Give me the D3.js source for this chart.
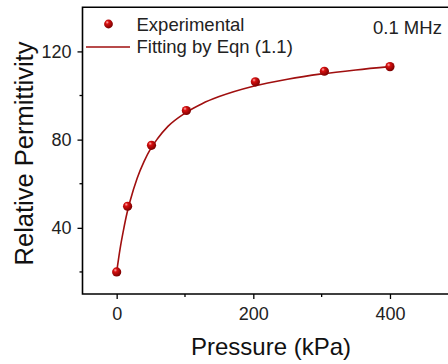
<!DOCTYPE html>
<html><head><meta charset="utf-8">
<script src="https://cdn.jsdelivr.net/npm/d3@7"></script>
<style>
html,body{margin:0;padding:0;background:#fff;}
svg{display:block;font-family:Arial,"Liberation Sans",sans-serif;}
</style></head>
<body>
<svg id="chart" width="448" height="364"></svg>
<script>
// Data
const pressure = [0, 16, 51, 102, 203, 304, 400];
const permittivity = [20, 49.8, 77.4, 93.2, 106.2, 111.0, 113.1];
const fitPressure = [0, 5, 10, 15, 20, 30, 40, 50, 60, 75, 100, 125, 150, 200, 250, 300, 350, 400];
const fitPermittivity = [20, 30.5, 39, 46.5, 52.5, 62.5, 70, 76, 80.5, 86, 92, 96.3, 99.5, 104.2, 107.4, 109.8, 111.6, 113.1];
const xTicks = [0, 200, 400];
const xMinorTicks = [100, 300];
const yTicks = [40, 80, 120];
const yMinorTicks = [20, 60, 100];
const legendLabels = ["Experimental", "Fitting by Eqn (1.1)"];
const annotation = "0.1 MHz";
const xTitle = "Pressure (kPa)";
const yTitle = "Relative Permittivity";

const svg = d3.select("#chart");
const pLeft = 82.5, pTop = 7.3, pBottom = 294, pRight = 458.3;
const x = d3.scaleLinear().domain([-50, 500]).range([pLeft, pRight]);
const y = d3.scaleLinear().domain([10, 140]).range([pBottom, pTop]);

const red = "#a00f0f";
const defs = svg.append("defs");
const g = defs.append("radialGradient").attr("id", "ball").attr("cx", "38%").attr("cy", "35%").attr("r", "65%").attr("fx", "35%").attr("fy", "30%");
g.append("stop").attr("offset", "0%").attr("stop-color", "#ffb0b0");
g.append("stop").attr("offset", "30%").attr("stop-color", "#d81010");
g.append("stop").attr("offset", "100%").attr("stop-color", "#7a0000");

// Axes
const xAxis = d3.axisBottom(x).tickValues(xTicks).tickSize(5).tickPadding(8).tickFormat(d3.format("d"));
const xAxisG = svg.append("g").attr("transform", `translate(0,${pBottom})`).call(xAxis);
xAxisG.append("g").selectAll("line").data(xMinorTicks).join("line")
  .attr("x1", d => x(d)).attr("x2", d => x(d)).attr("y1", 0).attr("y2", 3).attr("stroke", "#000").attr("stroke-width", 1.3);
const yAxis = d3.axisLeft(y).tickValues(yTicks).tickSize(5).tickPadding(6).tickFormat(d3.format("d"));
const yAxisG = svg.append("g").attr("transform", `translate(${pLeft},0)`).call(yAxis);
yAxisG.append("g").selectAll("line").data(yMinorTicks).join("line")
  .attr("y1", d => y(d)).attr("y2", d => y(d)).attr("x1", 0).attr("x2", -3).attr("stroke", "#000").attr("stroke-width", 1.3);
[xAxisG, yAxisG].forEach(a => {
  a.select(".domain").remove();
  a.selectAll(".tick line").attr("stroke", "#000").attr("stroke-width", 1.3);
  a.selectAll("text").attr("font-size", 18).attr("fill", "#222").attr("font-family", "Arial,'Liberation Sans',sans-serif");
});

// Frame
svg.append("path")
  .attr("d", `M${pRight},${pTop}H${pLeft}V${pBottom}H${pRight}`)
  .attr("fill", "none").attr("stroke", "#000").attr("stroke-width", 1.6);

// Fit curve
const line = d3.line().x((d, i) => x(fitPressure[i])).y((d, i) => y(fitPermittivity[i])).curve(d3.curveMonotoneX);
svg.append("path").datum(fitPermittivity).attr("d", line)
  .attr("fill", "none").attr("stroke", red).attr("stroke-width", 1.6);

// Points
svg.append("g").selectAll("circle").data(permittivity).join("circle")
  .attr("cx", (d, i) => x(pressure[i])).attr("cy", d => y(d)).attr("r", 4.6)
  .attr("fill", "url(#ball)");

// Legend
svg.append("circle").attr("cx", 108.5).attr("cy", 24).attr("r", 4.4).attr("fill", "url(#ball)");
svg.append("line").attr("x1", 86).attr("x2", 130).attr("y1", 47).attr("y2", 47).attr("stroke", red).attr("stroke-width", 1.6);
svg.append("text").attr("x", 136.5).attr("y", 30.5).attr("font-size", 18.5).attr("fill", "#222").text(legendLabels[0]);
svg.append("text").attr("x", 136.5).attr("y", 53).attr("font-size", 18.5).attr("fill", "#222").text(legendLabels[1]);
svg.append("text").attr("x", 373).attr("y", 34).attr("font-size", 18.5).attr("fill", "#222").text(annotation);

// Titles
svg.append("text").attr("x", 271).attr("y", 354.5).attr("text-anchor", "middle").attr("font-size", 24).attr("fill", "#111").text(xTitle);
svg.append("text").attr("transform", "translate(33,153.5) rotate(-90)").attr("text-anchor", "middle").attr("font-size", 25.5).attr("fill", "#111").text(yTitle);
</script>
</body></html>
